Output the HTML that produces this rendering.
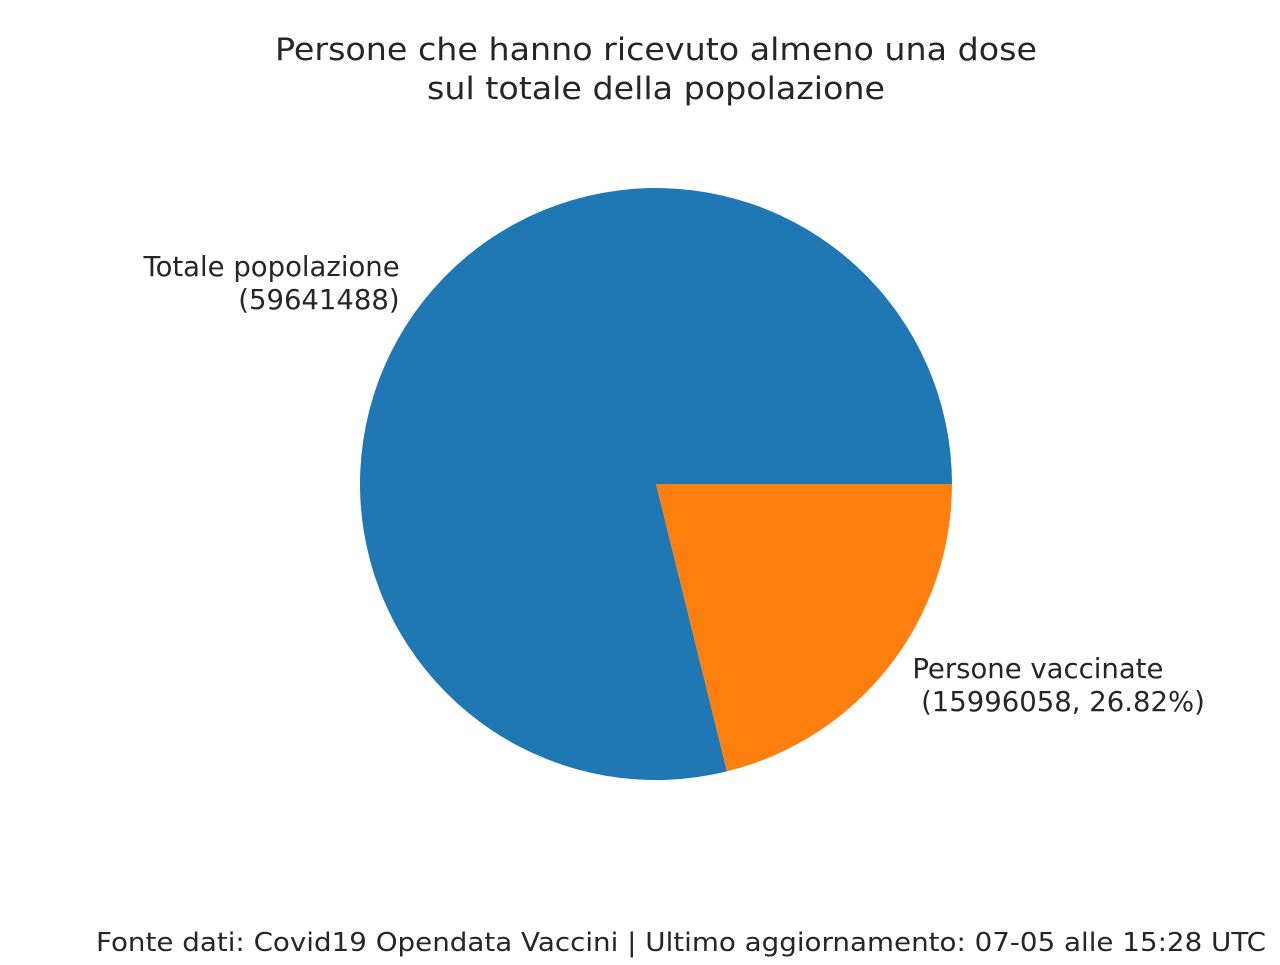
<!DOCTYPE html>
<html><head><meta charset="utf-8"><style>
body{margin:0;background:#fff;}
svg text{font-family:"DejaVu Sans","Liberation Sans",sans-serif;fill:#262626;}
</style></head><body>
<svg width="1280" height="960" xmlns="http://www.w3.org/2000/svg">
<text x="656" y="60" font-size="31" text-anchor="middle" textLength="762" lengthAdjust="spacingAndGlyphs">Persone che hanno ricevuto almeno una dose</text>
<text x="656" y="99" font-size="31" text-anchor="middle" textLength="458" lengthAdjust="spacingAndGlyphs">sul totale della popolazione</text>
<g id="pie"></g>
<text x="1266" y="951" font-size="26" text-anchor="end" textLength="1170" lengthAdjust="spacingAndGlyphs">Fonte dati: Covid19 Opendata Vaccini | Ultimo aggiornamento: 07-05 alle 15:28 UTC</text>
</svg>
<script>
const categories=["Totale popolazione","Persone vaccinate"];
const values=[59641488,15996058];
const labelLines=[["Totale popolazione","(59641488)"],["Persone vaccinate"," (15996058, 26.82%)"]];
const colors=["#1f77b4","#ff7f0e"];
const cx=656,cy=484,r=296;
const g=document.getElementById('pie');
const NS="http://www.w3.org/2000/svg";
const total=values.reduce((a,b)=>a+b,0);
let a0=0;
values.forEach((v,i)=>{
  const a1=a0+v/total*2*Math.PI;
  const x0=cx+r*Math.cos(a0),y0=cy-r*Math.sin(a0);
  const x1=cx+r*Math.cos(a1),y1=cy-r*Math.sin(a1);
  const large=(a1-a0)>Math.PI?1:0;
  const p=document.createElementNS(NS,'path');
  p.setAttribute('d',`M${cx},${cy} L${x0},${y0} A${r},${r} 0 ${large} 0 ${x1},${y1} Z`);
  p.setAttribute('fill',colors[i]);
  
  
  g.appendChild(p);
  const m=(a0+a1)/2;
  const lx=cx+1.1*r*Math.cos(m),ly=cy-1.1*r*Math.sin(m);
  const t=document.createElementNS(NS,'text');
  t.setAttribute('font-size','27.5');
  t.setAttribute('text-anchor',Math.cos(m)<0?'end':'start');
  
  
  labelLines[i].forEach((ln,j)=>{
    const s=document.createElementNS(NS,'tspan');
    s.setAttribute('x',lx);
    s.setAttribute('y',ly-16+9+j*33);
    s.style.whiteSpace='pre';
    s.textContent=ln;
    t.appendChild(s);
  });
  g.appendChild(t);
  a0=a1;
});
</script>
</body></html>
